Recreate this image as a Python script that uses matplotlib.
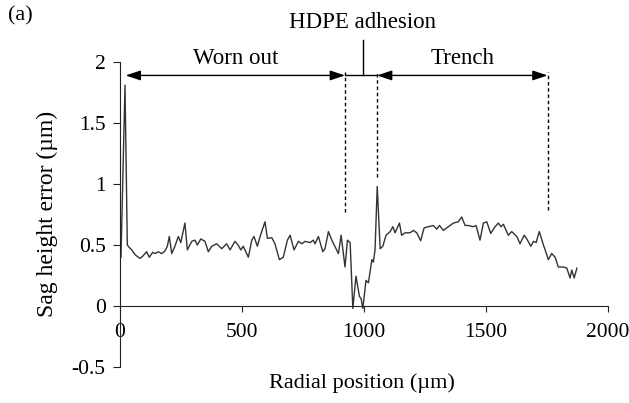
import matplotlib
matplotlib.use("Agg")
import matplotlib.pyplot as plt

plt.rcParams['font.family'] = ['Liberation Serif', 'DejaVu Serif']

radial_um = [6, 22.5, 32, 40, 50, 64, 84, 96, 111, 122, 136, 145, 159, 173, 186, 196, 204, 214,
             227, 241, 251, 268, 278, 296, 309, 319, 333, 350, 364, 378, 398, 419, 439, 453,
             473, 486, 497, 507, 528, 542, 551, 565, 576, 596, 606, 624, 637, 655, 671, 688,
             699, 715, 733, 747, 760, 781, 794, 801, 815, 833, 842, 856, 870, 887, 897, 908,
             924, 934, 945, 956, 969, 983, 990, 997, 1010, 1020, 1034, 1040, 1047, 1056, 1068,
             1079, 1092, 1109, 1120, 1129, 1147, 1156, 1170, 1190, 1204, 1218, 1234, 1248,
             1265, 1286, 1300, 1311, 1327, 1347, 1368, 1388, 1402, 1416, 1429, 1450, 1461,
             1477, 1491, 1505, 1521, 1539, 1552, 1563, 1573, 1593, 1607, 1628, 1641, 1658,
             1669, 1685, 1696, 1707, 1720, 1737, 1744, 1757, 1771, 1785, 1798, 1819, 1833,
             1846, 1853, 1863, 1874]
sag_error_um = [0.40, 1.81, 0.50, 0.48, 0.46, 0.42, 0.39, 0.41, 0.445, 0.40, 0.44, 0.43, 0.445,
                0.43, 0.45, 0.49, 0.57, 0.43, 0.49, 0.57, 0.52, 0.68, 0.46, 0.53, 0.54, 0.50,
                0.55, 0.53, 0.445, 0.49, 0.51, 0.47, 0.51, 0.46, 0.53, 0.50, 0.46, 0.49, 0.40,
                0.54, 0.57, 0.49, 0.57, 0.69, 0.555, 0.56, 0.51, 0.38, 0.40, 0.54, 0.58, 0.46,
                0.53, 0.51, 0.53, 0.52, 0.54, 0.51, 0.57, 0.445, 0.47, 0.61, 0.54, 0.47, 0.43,
                0.58, 0.32, 0.54, 0.52, -0.02, 0.245, 0.08, 0.06, -0.02, 0.21, 0.19, 0.38, 0.36,
                0.46, 0.98, 0.47, 0.49, 0.58, 0.61, 0.65, 0.60, 0.68, 0.58, 0.60, 0.60, 0.62,
                0.60, 0.535, 0.64, 0.65, 0.66, 0.63, 0.66, 0.62, 0.65, 0.68, 0.69, 0.73, 0.66,
                0.66, 0.65, 0.66, 0.54, 0.68, 0.69, 0.595, 0.65, 0.68, 0.65, 0.67, 0.58, 0.61,
                0.57, 0.51, 0.58, 0.55, 0.49, 0.53, 0.52, 0.61, 0.50, 0.46, 0.38, 0.43, 0.40,
                0.32, 0.32, 0.31, 0.23, 0.295, 0.23, 0.31]

x_ticks = [0, 500, 1000, 1500, 2000]
y_ticks = [-0.5, 0, 0.5, 1, 1.5, 2]
y_tick_labels = ['-0.5', '0', '0.5', '1', '1.5', '2']

region_labels = ['Worn out', 'Trench']
region_spans = [(25, 924), (1055, 1754)]
boundaries = [(924, 0.77), (1055, 1.06), (1754, 0.79)]
hdpe_x = 997

fig = plt.figure(figsize=(6.29, 4.03), dpi=100)
ax = fig.add_axes([0.190, 0.0893, 0.776, 0.7568])

ax.plot(radial_um, sag_error_um, color='#333333', lw=1.0)

ax.set_xlim(0, 2000)
ax.set_ylim(-0.5, 2)
ax.spines['top'].set_visible(False)
ax.spines['right'].set_visible(False)
ax.spines['bottom'].set_position(('data', 0))
ax.spines['left'].set_color('#222222')
ax.spines['bottom'].set_color('#222222')
ax.set_xticks(x_ticks)
ax.set_yticks(y_ticks)
ax.set_yticklabels(y_tick_labels)
ax.tick_params(axis='x', direction='out', length=4, pad=8, labelsize=15.5, color='#222222')
ax.tick_params(axis='y', direction='out', length=5, pad=5, labelsize=15.5, color='#222222')

fig.text(0.576, 1 - 383 / 403, 'Radial position (µm)', fontsize=16,
         ha='center', va='center')
fig.text(0.075, 1 - 214 / 403, 'Sag height error (µm)', rotation=90, fontsize=17,
         ha='center', va='center')

arrow_y = 1.89
for label, (x0, x1) in zip(region_labels, region_spans):
    ax.annotate('', xy=(x0, arrow_y), xytext=(x1, arrow_y),
                arrowprops=dict(arrowstyle='<|-|>,head_length=0.9,head_width=0.3',
                                color='black', lw=1.0, shrinkA=0, shrinkB=0),
                annotation_clip=False)
    ax.text((x0 + x1) / 2, 2.03, label, fontsize=16.5, ha='center', va='center')

for bx, by in boundaries:
    ax.plot([bx, bx], [by, arrow_y + 0.03], ls=(0, (2.5, 2)), color='black', lw=1.0,
            clip_on=False)

ax.plot([region_spans[0][1], region_spans[1][0]], [arrow_y, arrow_y], color='black', lw=1.0,
        clip_on=False)
ax.plot([hdpe_x, hdpe_x], [arrow_y, 2.18], color='black', lw=1.0, clip_on=False)
ax.text(hdpe_x, 2.32, 'HDPE adhesion', fontsize=16.5, ha='center', va='center')

fig.text(0.012, 1 - 16 / 403, '(a)', fontsize=16, ha='left', va='center')

fig.savefig('out.png', dpi=100)
